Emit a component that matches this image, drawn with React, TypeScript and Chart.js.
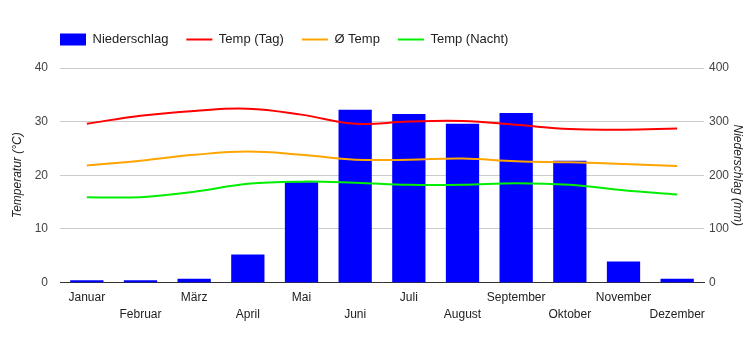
import React, { useEffect, useRef } from "react";
import { Chart, registerables } from "chart.js";

Chart.register(...registerables);

const months = ["Januar", "Februar", "März", "April", "Mai", "Juni", "Juli", "August", "September", "Oktober", "November", "Dezember"];
const precipitation = [4, 4, 7, 52, 187, 322, 314, 296, 316, 227, 39, 7];
const tempDay = [29.6, 31.1, 32.0, 32.4, 31.3, 29.6, 30.0, 30.1, 29.4, 28.6, 28.5, 28.7];
const tempAvg = [21.8, 22.7, 23.8, 24.4, 23.8, 22.9, 22.9, 23.1, 22.6, 22.4, 22.1, 21.7];
const tempNight = [15.9, 15.9, 16.9, 18.4, 18.8, 18.6, 18.2, 18.2, 18.5, 18.2, 17.2, 16.4];

const FONT = "'Liberation Sans', Arial, sans-serif";

const legendAdjust = {
  id: "legendAdjust",
  beforeLayout(chart: any) {
    const lg = chart.legend;
    if (lg && !lg._patched) {
      const f = lg.fit.bind(lg);
      lg.fit = function () {
        f();
        this.height += 12;
      };
      lg._patched = true;
    }
  },
  afterLayout(chart: any) {
    const lg = chart.legend;
    if (lg) {
      lg.left += 42;
      lg.right += 42;
    }
  },
};

export default function App() {
  const ref = useRef<HTMLCanvasElement | null>(null);
  useEffect(() => {
    document.body.style.margin = "0";
    if (!ref.current) return;
    Chart.defaults.font.family = FONT;
    const chart = new Chart(ref.current, {
      type: "bar",
      data: {
        labels: months,
        datasets: [
          {
            type: "bar",
            label: "Niederschlag",
            data: precipitation,
            backgroundColor: "#0000FF",
            borderWidth: 0,
            yAxisID: "y1",
            barPercentage: 0.62,
            categoryPercentage: 1,
            order: 1,
          },
          {
            type: "line",
            label: "Temp (Tag)",
            data: tempDay,
            borderColor: "#FF0000",
            backgroundColor: "#FF0000",
            borderWidth: 2,
            pointRadius: 0,
            tension: 0.4,
            yAxisID: "y",
            order: 0,
          },
          {
            type: "line",
            label: "Ø Temp",
            data: tempAvg,
            borderColor: "#FFA500",
            backgroundColor: "#FFA500",
            borderWidth: 2,
            pointRadius: 0,
            tension: 0.4,
            yAxisID: "y",
            order: 0,
          },
          {
            type: "line",
            label: "Temp (Nacht)",
            data: tempNight,
            borderColor: "#00EE00",
            backgroundColor: "#00EE00",
            borderWidth: 2,
            pointRadius: 0,
            tension: 0.4,
            yAxisID: "y",
            order: 0,
          },
        ],
      },
      options: {
        responsive: false,
        animation: false,
        layout: { padding: { top: 15, bottom: 20, left: 0, right: 0 } },
        plugins: {
          tooltip: { enabled: false },
          legend: {
            position: "top",
            align: "start",
            labels: {
              usePointStyle: true,
              pointStyleWidth: 26,
              boxHeight: 12,
              padding: 18,
              color: "#222",
              font: { size: 13, family: FONT },
              generateLabels: (c: any) =>
                (Chart.defaults.plugins.legend.labels as any)
                  .generateLabels(c)
                  .sort((a: any, b: any) => a.datasetIndex - b.datasetIndex)
                  .map((l: any) => ({
                    ...l,
                    pointStyle: l.datasetIndex === 0 ? "rect" : "line",
                    lineWidth: l.datasetIndex === 0 ? 0 : 2,
                  })),
            },
          },
        },
        scales: {
          x: {
            grid: { display: false, drawTicks: false },
            border: { display: true, color: "#333", width: 1 },
            ticks: {
              autoSkip: false,
              maxRotation: 0,
              minRotation: 0,
              padding: 7,
              color: "#222",
              font: { size: 12, family: FONT, lineHeight: 1.4 },
              callback: function (this: any, value: any, index: number) {
                const l = this.getLabelForValue(value);
                return index % 2 ? ["", l] : l;
              },
            },
          },
          y: {
            position: "left",
            min: 0,
            max: 40,
            ticks: { stepSize: 10, padding: 12, color: "#444", font: { size: 12, family: FONT } },
            grid: { color: "#CCCCCC", drawTicks: false },
            border: { display: false },
            title: {
              display: true,
              text: "Temperatur (°C)",
              color: "#222",
              padding: { top: 10, bottom: 0 },
              font: { size: 12, style: "italic", family: FONT },
            },
            afterFit: (s: any) => {
              s.width = 60;
            },
          },
          y1: {
            position: "right",
            min: 0,
            max: 400,
            ticks: { stepSize: 100, padding: 5, color: "#444", font: { size: 12, family: FONT } },
            grid: { display: false, drawTicks: false },
            border: { display: false },
            title: {
              display: true,
              text: "Niederschlag (mm)",
              color: "#222",
              padding: { top: 5, bottom: 0 },
              font: { size: 12, style: "italic", family: FONT },
            },
            afterFit: (s: any) => {
              s.width = 46;
            },
          },
        },
      },
      plugins: [legendAdjust],
    } as any);
    return () => chart.destroy();
  }, []);
  return <canvas ref={ref} width={750} height={350} />;
}
